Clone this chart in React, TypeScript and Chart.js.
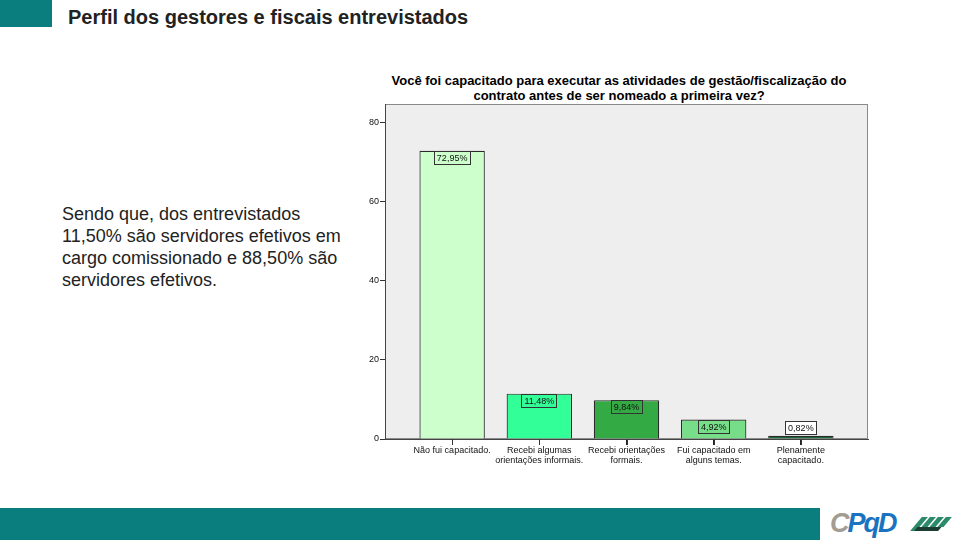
import React, { useEffect, useRef } from "react";
import { Chart, registerables } from "chart.js";

Chart.register(...registerables);

const categories: string[][] = [
  ["Não fui capacitado."],
  ["Recebi algumas", "orientações informais."],
  ["Recebi orientações", "formais."],
  ["Fui capacitado em", "alguns temas."],
  ["Plenamente", "capacitado."],
];
const values = [72.95, 11.48, 9.84, 4.92, 0.82];
const valueLabels = ["72,95%", "11,48%", "9,84%", "4,92%", "0,82%"];
const barColors = ["#ccffcc", "#33ff99", "#33aa44", "#77dd88", "#1d6b3c"];
const yTicks = [0, 20, 40, 60, 80];

const slideTitle = "Perfil dos gestores e fiscais entrevistados";
const chartTitle = [
  "Você foi capacitado para executar as atividades de gestão/fiscalização do",
  "contrato antes de ser nomeado a primeira vez?",
];
const bodyLines = [
  "Sendo que, dos entrevistados",
  "11,50% são servidores efetivos em",
  "cargo comissionado e 88,50% são",
  "servidores efetivos.",
];

const TEAL = "#0a7e7e";
const FONT = "Arial, 'Liberation Sans', sans-serif";

const plotBgPlugin = {
  id: "plotBg",
  beforeDraw(chart: any) {
    const { ctx, chartArea: a } = chart;
    ctx.save();
    ctx.fillStyle = "#eeeeee";
    ctx.fillRect(a.left, a.top, a.right - a.left, a.bottom - a.top);
    ctx.strokeStyle = "#8a8a8a";
    ctx.lineWidth = 1;
    ctx.strokeRect(a.left + 0.5, a.top + 0.5, a.right - a.left - 1, a.bottom - a.top - 1);
    ctx.restore();
  },
  afterDraw(chart: any) {
    const { ctx } = chart;
    const xs = chart.scales.x;
    ctx.save();
    ctx.strokeStyle = "#333333";
    ctx.lineWidth = 1;
    categories.forEach((_, i) => {
      const px = Math.round(xs.getPixelForValue(i)) + 0.5;
      ctx.beginPath();
      ctx.moveTo(px, xs.top);
      ctx.lineTo(px, xs.top + 6);
      ctx.stroke();
    });
    ctx.restore();
  },
};

const valueBoxPlugin = {
  id: "valueBox",
  afterDatasetsDraw(chart: any) {
    const { ctx } = chart;
    const meta = chart.getDatasetMeta(0);
    ctx.save();
    ctx.font = "9px " + FONT;
    ctx.textAlign = "center";
    ctx.textBaseline = "middle";
    meta.data.forEach((bar: any, i: number) => {
      const label = valueLabels[i];
      const w = Math.round(ctx.measureText(label).width + 6);
      const h = 14;
      const barH = bar.base - bar.y;
      let top: number;
      let fill: string;
      if (barH >= h + 2) {
        top = Math.round(bar.y);
        fill = barColors[i];
      } else {
        top = Math.round(bar.y) - h - 1;
        fill = "#ffffff";
      }
      const left = Math.round(bar.x - w / 2);
      ctx.fillStyle = fill;
      ctx.fillRect(left, top, w, h);
      ctx.strokeStyle = "#333333";
      ctx.lineWidth = 1;
      ctx.strokeRect(left + 0.5, top + 0.5, w - 1, h - 1);
      ctx.fillStyle = "#111111";
      ctx.fillText(label, bar.x, top + h / 2 + 0.5);
    });
    ctx.restore();
  },
};

function ChartBox() {
  const ref = useRef<HTMLCanvasElement>(null);
  useEffect(() => {
    if (!ref.current) return;
    const chart = new Chart(ref.current, {
      type: "bar",
      data: {
        datasets: [
          {
            data: values.map((v, i) => ({ x: i, y: v })),
            backgroundColor: barColors,
            borderColor: "#2a2a2a",
            borderWidth: 1.2,
            barPercentage: 0.75,
            categoryPercentage: 1,
          },
        ],
      },
      options: {
        animation: false,
        responsive: false,
        maintainAspectRatio: false,
        layout: { padding: { top: 9, right: 7, left: 0, bottom: 0 } },
        plugins: {
          legend: { display: false },
          tooltip: { enabled: false },
          title: { display: false },
        },
        scales: {
          x: {
            type: "linear",
            min: -0.77,
            max: 4.77,
            offset: false,
            afterBuildTicks(scale: any) {
              scale.ticks = categories.map((_, i) => ({ value: i }));
            },
            afterFit(scale: any) {
              scale.height = 36;
            },
            ticks: {
              autoSkip: false,
              maxRotation: 0,
              padding: 1,
              color: "#111111",
              font: { family: FONT, size: 9, lineHeight: 1.1 },
              callback: (v: any) => categories[Math.round(Number(v))] ?? "",
            },
            grid: {
              offset: false,
              drawOnChartArea: false,
              drawTicks: true,
              tickLength: 6,
              lineWidth: 1,
              color: "#222222",
            },
            border: { display: true, color: "#444444", width: 1 },
          },
          y: {
            min: 0,
            max: 84.8,
            afterBuildTicks(scale: any) {
              scale.ticks = yTicks.map((v) => ({ value: v }));
            },
            afterFit(scale: any) {
              scale.width = 30;
            },
            ticks: {
              padding: 1,
              color: "#111111",
              font: { family: FONT, size: 9 },
            },
            grid: {
              offset: false,
              drawOnChartArea: false,
              drawTicks: true,
              tickLength: 5,
              color: "#333333",
            },
            border: { display: true, color: "#444444", width: 1 },
          },
        },
      },
      plugins: [plotBgPlugin, valueBoxPlugin],
    } as any);
    return () => chart.destroy();
  }, []);
  return <canvas ref={ref} width={520} height={380} style={{ position: "absolute", left: 355, top: 95, width: 520, height: 380 }} />;
}

export default function App() {
  const font = "Arial, 'Liberation Sans', Helvetica, sans-serif";
  return (
    <div style={{ position: "absolute", left: 0, top: 0, width: 960, height: 540, background: "#ffffff", overflow: "hidden", fontFamily: font }}>
      <div style={{ position: "absolute", left: 0, top: 0, width: 52, height: 27, background: TEAL }} />
      <div style={{ position: "absolute", left: 68, top: 6, fontSize: 20, fontWeight: "bold", color: "#222222", whiteSpace: "nowrap" }}>
        {slideTitle}
      </div>
      <div style={{ position: "absolute", left: 62, top: 203, fontSize: 18, lineHeight: "22px", color: "#222222", whiteSpace: "nowrap" }}>
        {bodyLines.map((l, i) => (
          <div key={i}>{l}</div>
        ))}
      </div>
      <div style={{ position: "absolute", left: 355, top: 74, width: 528, textAlign: "center", fontSize: 13, fontWeight: "bold", lineHeight: "14.5px", color: "#000000", whiteSpace: "nowrap" }}>
        {chartTitle.map((l, i) => (
          <div key={i}>{l}</div>
        ))}
      </div>
      <ChartBox />
      <div style={{ position: "absolute", left: 0, top: 508, width: 820, height: 32, background: TEAL }} />
      <div style={{ position: "absolute", left: 830, top: 508, fontSize: 27, fontWeight: "bold", fontStyle: "italic", whiteSpace: "nowrap", letterSpacing: -2 }}>
        <span style={{ color: "#a39c93" }}>C</span>
        <span style={{ color: "#1a73c0" }}>Pq</span>
        <span style={{ color: "#1a73c0" }}>D</span>
      </div>
      <div style={{ position: "absolute", left: 912, top: 517, width: 40, height: 14, transform: "skewX(-40deg)" }}>
        <div style={{ position: "absolute", left: 4, top: 0, width: 6, height: 14, background: "#2a8a6a" }} />
        <div style={{ position: "absolute", left: 12, top: 0, width: 6, height: 14, background: "#2a8a6a" }} />
        <div style={{ position: "absolute", left: 20, top: 0, width: 6, height: 14, background: "#2a8a6a" }} />
        <div style={{ position: "absolute", left: 28, top: 0, width: 6, height: 10, background: "#2a8a6a" }} />
        <div style={{ position: "absolute", left: 8, top: 10, width: 24, height: 4, background: "#1c3d33" }} />
      </div>
    </div>
  );
}
